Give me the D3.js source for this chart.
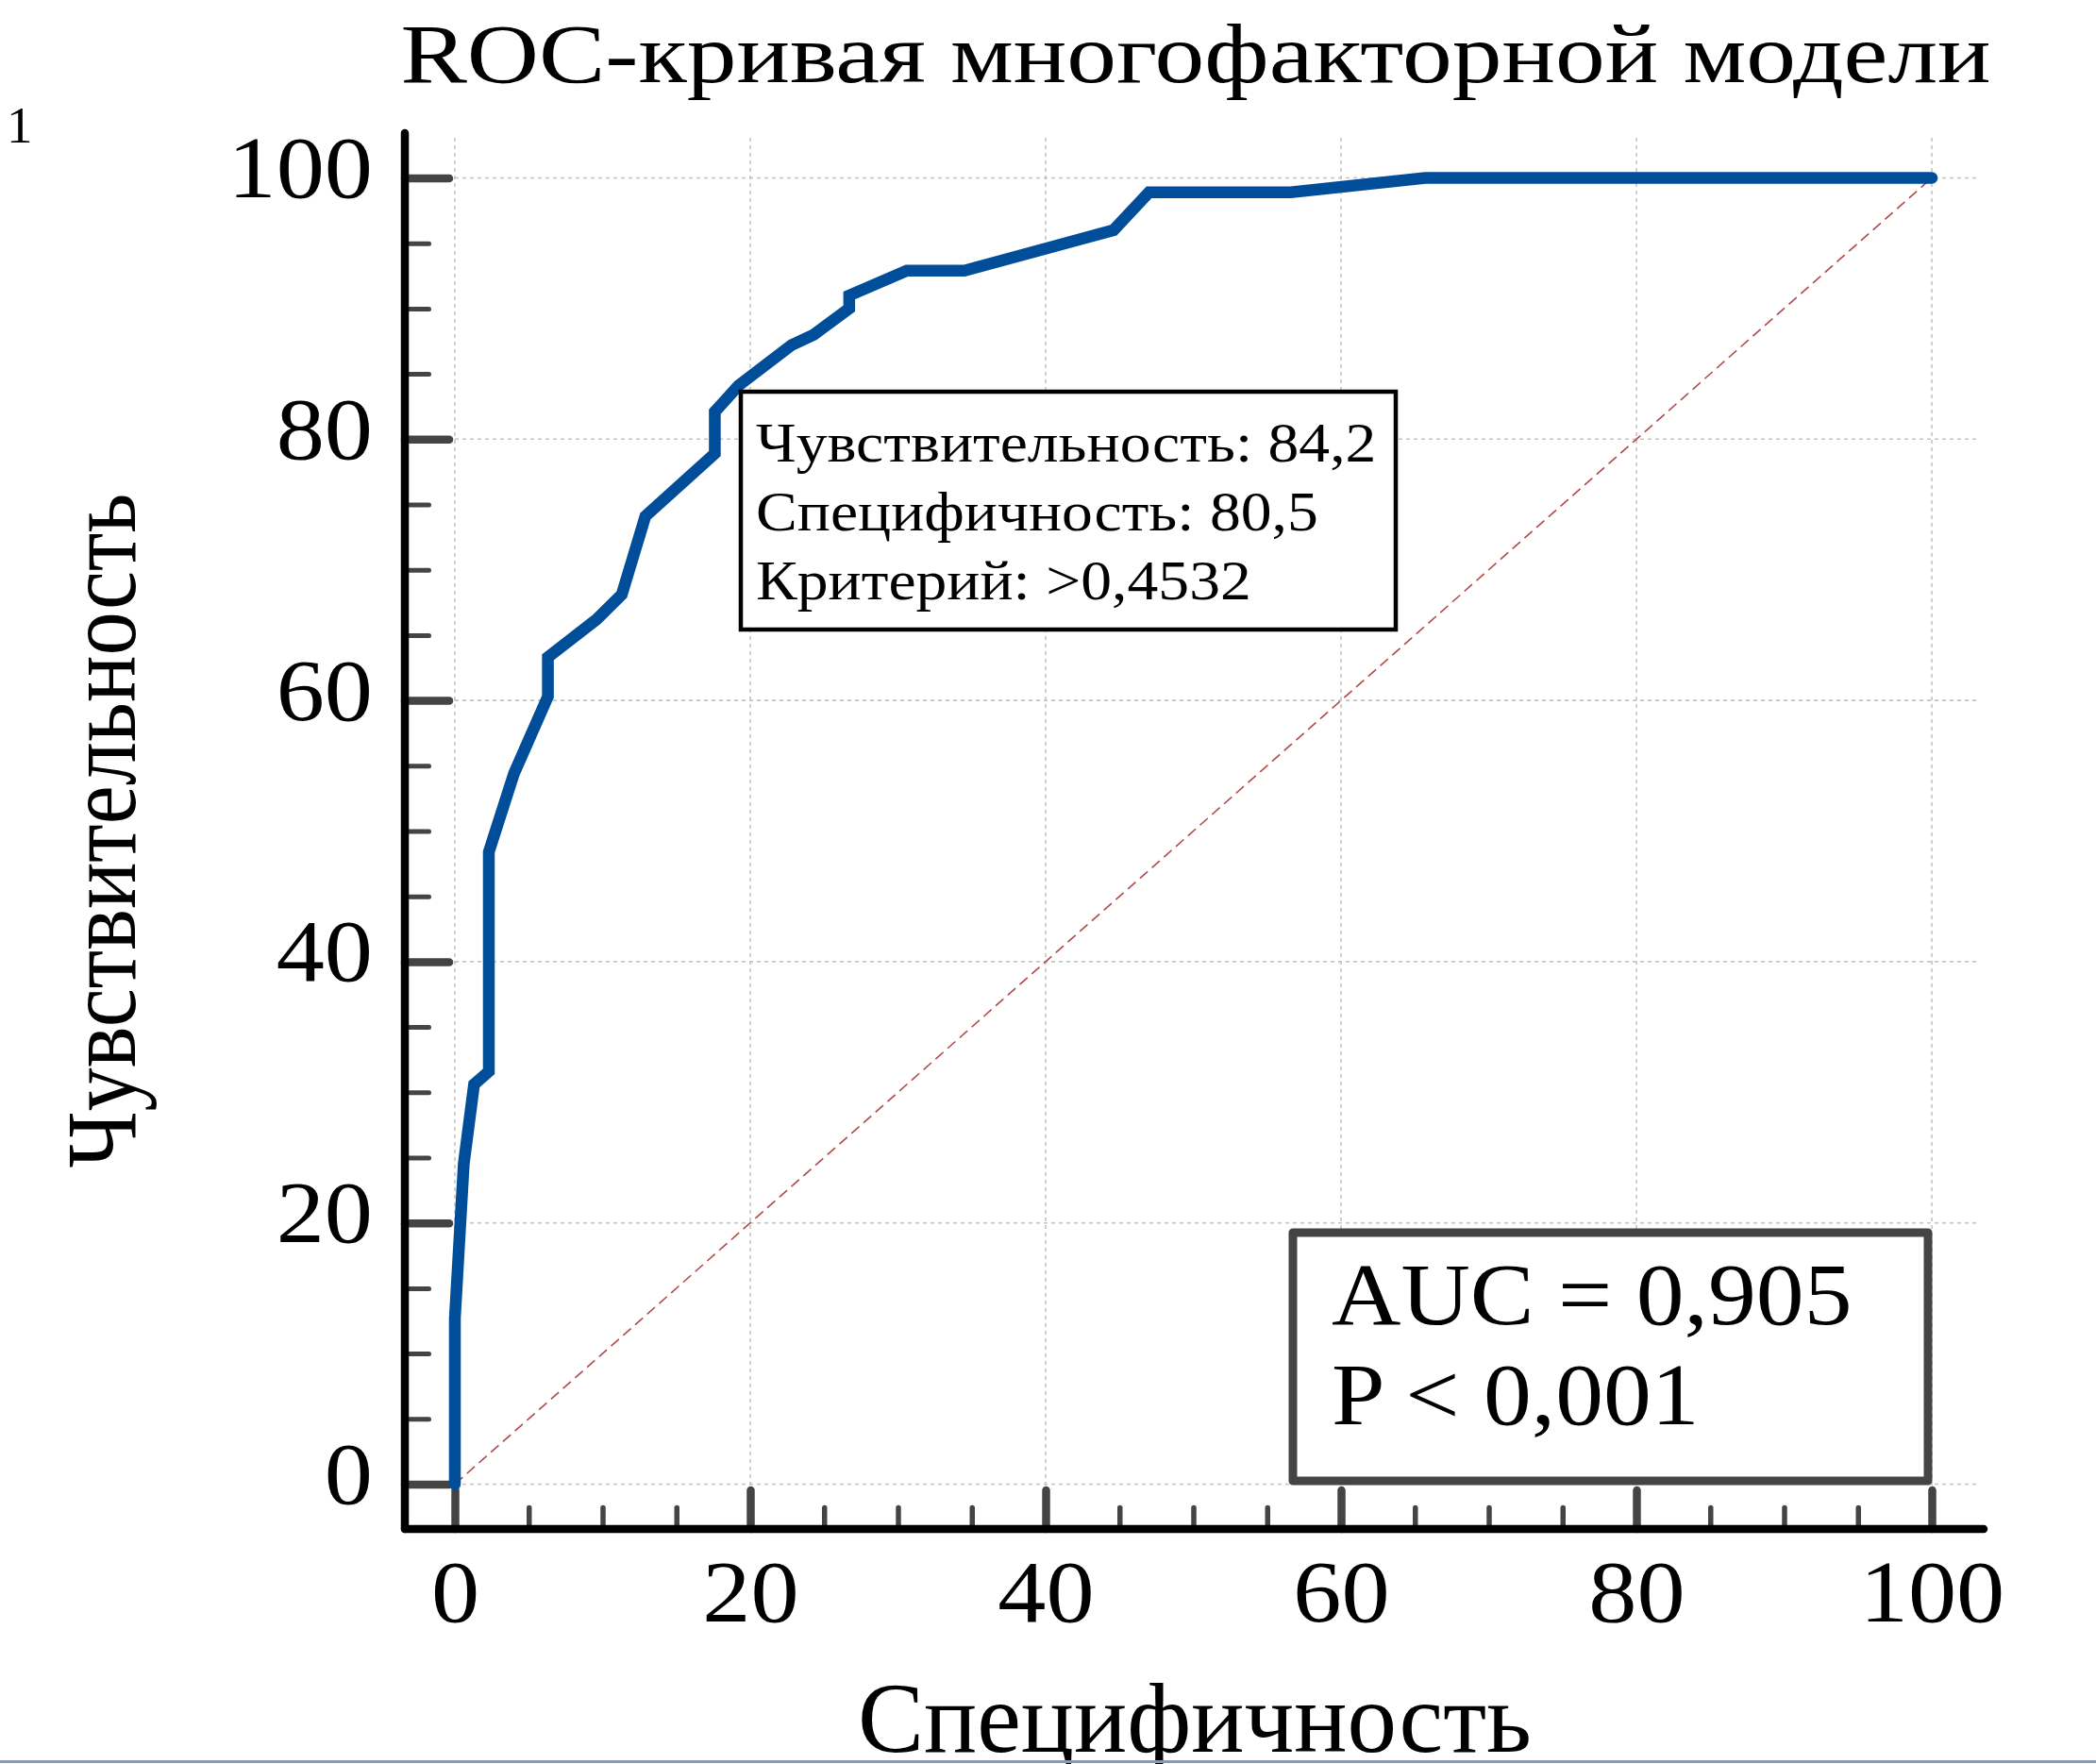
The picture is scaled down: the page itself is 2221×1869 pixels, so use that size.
<!DOCTYPE html>
<html>
<head>
<meta charset="utf-8">
<script src="https://cdn.jsdelivr.net/npm/d3@7"></script>
<style>
	body { margin: 0; background: #fff; }
	svg { display: block; }
	text { font-family: 'Liberation Serif', 'Times New Roman', serif; fill: #000; }
</style>
</head>
<body>
<div id="chart"></div>
<script>
// ROC curve points (x = 100 - specificity, y = sensitivity)
var fprValues = [0, 0, 0.6, 1.3, 2.3, 2.3, 4.0, 6.3, 6.3, 9.6, 11.3, 12.9, 17.6, 17.6, 19.2, 22.8, 24.3, 26.7, 26.7, 30.6, 34.5, 44.6, 47.0, 56.6, 65.7, 100];
var tprValues = [0, 12.7, 24.5, 30.6, 31.6, 48.4, 54.4, 60.3, 63.3, 66.2, 68.1, 74.1, 78.9, 82.1, 84.1, 87.2, 88.0, 90.0, 91.0, 92.9, 92.9, 96.0, 98.9, 98.9, 100, 100];

var majorTicks = [0, 20, 40, 60, 80, 100];
var minorTicks = [5, 10, 15, 25, 30, 35, 45, 50, 55, 65, 70, 75, 85, 90, 95];

var titleText = 'ROC-кривая многофакторной модели';
var xLabel = 'Специфичность';
var yLabel = 'Чувствительность';
var cutoffLines = ['Чувствительность: 84,2', 'Специфичность: 80,5', 'Критерий: >0,4532'];
var aucLines = ['AUC = 0,905', 'P < 0,001'];

var width = 2221,
	height = 1869;

var svg = d3.select('#chart').append('svg')
	.attr('width', width)
	.attr('height', height);

var xScale = d3.scaleLinear().domain([0, 100]).range([482, 2047]);
var yScale = d3.scaleLinear().domain([0, 100]).range([1572.5, 188.5]);

var axisX = 429,   // y axis line position
	axisY = 1620;  // x axis line position

var data = fprValues.map(function(d, i) { return {x: d, y: tprValues[i]}; });

// the original glyphs are a bit wider than Liberation Serif
var widen = function(sel, k) {
	sel.each(function() {
		var t = d3.select(this);
		t.attr('textLength', this.getComputedTextLength() * k)
			.attr('lengthAdjust', 'spacingAndGlyphs');
	});
};

// grid
var grid = svg.append('g').attr('class', 'grid');
grid.selectAll('.hgrid').data(majorTicks).enter().append('line')
	.attr('x1', xScale(0)).attr('x2', 2096)
	.attr('y1', function(d) { return yScale(d); })
	.attr('y2', function(d) { return yScale(d); })
	.attr('stroke', '#c4c4c4').attr('stroke-width', 1.6).attr('stroke-dasharray', '4,4');
grid.selectAll('.vgrid').data(majorTicks).enter().append('line')
	.attr('x1', function(d) { return xScale(d); })
	.attr('x2', function(d) { return xScale(d); })
	.attr('y1', 146).attr('y2', axisY)
	.attr('stroke', '#c4c4c4').attr('stroke-width', 1.6).attr('stroke-dasharray', '4,4');

// reference diagonal
svg.append('line')
	.attr('x1', xScale(0)).attr('y1', yScale(0))
	.attr('x2', xScale(100)).attr('y2', yScale(100))
	.attr('stroke', '#b04a4a').attr('stroke-width', 1.6).attr('stroke-dasharray', '11,6');

// y axis ticks
var yMinor = svg.append('g')
	.attr('transform', 'translate(' + axisX + ',0)')
	.call(d3.axisLeft(yScale).tickValues(minorTicks).tickSize(-25.5).tickFormat(''));
var yMajor = svg.append('g')
	.attr('transform', 'translate(' + axisX + ',0)')
	.call(d3.axisLeft(yScale).tickValues(majorTicks).tickSize(-47).tickPadding(34));

// x axis ticks
var xMinor = svg.append('g')
	.attr('transform', 'translate(0,' + axisY + ')')
	.call(d3.axisBottom(xScale).tickValues(minorTicks).tickSize(-22.5).tickFormat(''));
var xMajor = svg.append('g')
	.attr('transform', 'translate(0,' + axisY + ')')
	.call(d3.axisBottom(xScale).tickValues(majorTicks).tickSize(-41).tickPadding(32));

[yMinor, yMajor, xMinor, xMajor].forEach(function(g) {
	g.select('.domain').remove();
	g.selectAll('.tick line').attr('stroke', '#444').attr('stroke-linecap', 'round');
});
yMinor.selectAll('.tick line').attr('stroke-width', 5);
xMinor.selectAll('.tick line').attr('stroke-width', 5.5);
yMajor.selectAll('.tick line').attr('stroke-width', 8.5);
xMajor.selectAll('.tick line').attr('stroke-width', 8.5);
yMajor.selectAll('.tick text').attr('font-size', 93).attr('dy', '0.215em')
	.attr('font-family', "'Liberation Serif', serif")
	.call(widen, 1.1);
xMajor.selectAll('.tick text').attr('font-size', 93)
	.attr('font-family', "'Liberation Serif', serif")
	.call(widen, 1.1);

// ROC curve
var line = d3.line()
	.x(function(d) { return xScale(d.x); })
	.y(function(d) { return yScale(d.y); });

svg.append('path')
	.datum(data)
	.attr('d', line)
	.attr('fill', 'none')
	.attr('stroke', '#004e9a')
	.attr('stroke-width', 12.5)
	.attr('stroke-linecap', 'round')
	.attr('stroke-linejoin', 'miter');

// axis lines
svg.append('line')
	.attr('x1', axisX).attr('x2', axisX).attr('y1', 141).attr('y2', axisY)
	.attr('stroke', '#000').attr('stroke-width', 8.5).attr('stroke-linecap', 'round');
svg.append('line')
	.attr('x1', axisX).attr('x2', 2102).attr('y1', axisY).attr('y2', axisY)
	.attr('stroke', '#000').attr('stroke-width', 8.5).attr('stroke-linecap', 'round');

// cut-off box
var cutBox = svg.append('g');
cutBox.append('rect')
	.attr('x', 785).attr('y', 415).attr('width', 694).attr('height', 252)
	.attr('fill', '#fff').attr('stroke', '#000').attr('stroke-width', 4.5);
cutBox.selectAll('text').data(cutoffLines).enter().append('text')
	.attr('x', 801)
	.attr('y', function(d, i) { return 489 + i * 73; })
	.attr('font-size', 60)
	.text(function(d) { return d; })
	.call(widen, 1.094);

// AUC box
var aucBox = svg.append('g');
aucBox.append('rect')
	.attr('x', 1370).attr('y', 1306).attr('width', 673).attr('height', 263)
	.attr('fill', '#fff').attr('stroke', '#444').attr('stroke-width', 9)
	.attr('stroke-linejoin', 'round');
aucBox.selectAll('text').data(aucLines).enter().append('text')
	.attr('x', 1411)
	.attr('y', function(d, i) { return 1403 + i * 106; })
	.attr('font-size', 93)
	.text(function(d) { return d; })
	.call(widen, 1.093);

// title and axis labels
svg.append('text')
	.attr('x', 1267).attr('y', 87)
	.attr('text-anchor', 'middle')
	.attr('font-size', 89)
	.attr('textLength', 1685)
	.attr('lengthAdjust', 'spacingAndGlyphs')
	.text(titleText);

svg.append('text')
	.attr('transform', 'translate(143,880) rotate(-90)')
	.attr('text-anchor', 'middle')
	.attr('font-size', 105)
	.attr('textLength', 715)
	.attr('lengthAdjust', 'spacingAndGlyphs')
	.text(yLabel);

svg.append('text')
	.attr('x', 1266).attr('y', 1856)
	.attr('text-anchor', 'middle')
	.attr('font-size', 105)
	.text(xLabel);

svg.append('text')
	.attr('x', 7).attr('y', 151)
	.attr('font-size', 55)
	.text('1');

// page edge line at the bottom
svg.append('rect')
	.attr('x', 0).attr('y', 1865).attr('width', width).attr('height', 3)
	.attr('fill', '#8199c4');
</script>
</body>
</html>
